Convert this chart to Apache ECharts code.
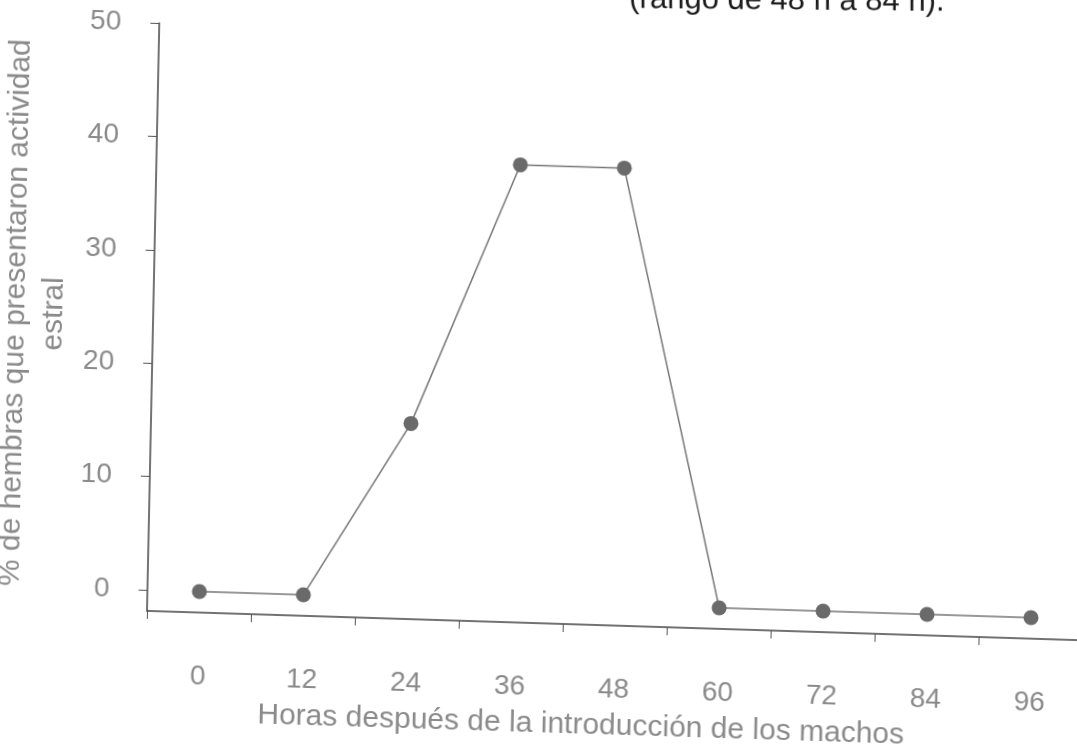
<!DOCTYPE html>
<html>
<head>
<meta charset="utf-8">
<script src="https://cdn.jsdelivr.net/npm/echarts@6/dist/echarts.min.js"></script>
<style>
  html, body { margin: 0; padding: 0; background: #fff; overflow: hidden; width: 1077px; height: 755px; }
  #chart { position: absolute; left: -60px; top: -60px; width: 1200px; height: 880px;
           transform: matrix(0.9995, 0.0314, -0.0209, 0.9998, 0, 0); transform-origin: 210px 671px; }
</style>
</head>
<body>
<div id="chart"></div>
<script>
const categories = ['0', '12', '24', '36', '48', '60', '72', '84', '96'];
const values = [0, 0, 15.4, 38.5, 38.5, 0, 0, 0, 0];
const yTicks = [0, 10, 20, 30, 40, 50];
const yName = '% de hembras que presentaron actividad\nestral';
const xName = 'Horas después de la introducción de los machos';
const titleText = '(rango de 48 h a 84 h).';

const font = 'Liberation Sans, Arial, sans-serif';
const gray = '#8a8a8a';

const chart = echarts.init(document.getElementById('chart'));
chart.setOption({
  animation: false,
  backgroundColor: '#fff',
  graphic: [{
    type: 'text',
    x: 676,
    y: 29,
    rotation: 0.022,
    style: { text: titleText, fontSize: 31, fontFamily: font, fill: '#1a1a1a', verticalAlign: 'top', align: 'left' }
  }],
  grid: { left: 207, top: 83, right: 57, bottom: 209, containLabel: false },
  xAxis: {
    type: 'category',
    data: categories,
    boundaryGap: true,
    axisLine: { onZero: false, lineStyle: { color: '#444', width: 1.5 } },
    axisTick: { show: true, alignWithLabel: false, length: 8, lineStyle: { color: '#555', width: 1 } },
    axisLabel: { margin: 50, fontSize: 28, color: gray, fontFamily: font },
    splitLine: { show: false },
    name: xName,
    nameLocation: 'middle',
    nameGap: 86,
    nameTextStyle: { fontSize: 30, color: gray, fontFamily: font, padding: [0, 64, 0, 0] }
  },
  yAxis: {
    type: 'value',
    min: -1.85,
    max: 50,
    axisLine: { show: true, lineStyle: { color: '#444', width: 1.5 } },
    axisTick: { show: true, length: 9, customValues: yTicks, lineStyle: { color: '#555', width: 1 } },
    axisLabel: { margin: 38, fontSize: 28, color: gray, fontFamily: font, customValues: yTicks },
    splitLine: { show: false },
    name: yName,
    nameLocation: 'middle',
    nameGap: 76,
    nameRotate: 90,
    nameTextStyle: { fontSize: 30, lineHeight: 38, color: gray, fontFamily: font, align: 'center' }
  },
  series: [{
    type: 'line',
    data: values,
    symbol: 'circle',
    symbolSize: 15,
    itemStyle: { color: '#6a6a6a' },
    lineStyle: { color: '#777', width: 1.5 }
  }]
});
</script>
</body>
</html>
